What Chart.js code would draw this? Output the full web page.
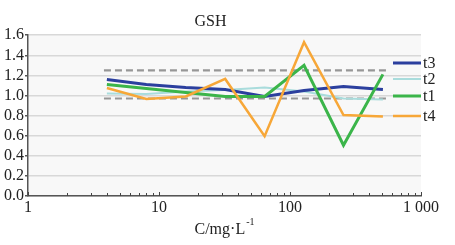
<!DOCTYPE html>
<html>
<head>
<meta charset="utf-8">
<script src="https://cdn.jsdelivr.net/npm/chart.js@4"></script>
<style>
  html, body { margin: 0; padding: 0; background: #fff; }
  #wrap { width: 455px; height: 245px; }
</style>
</head>
<body>
<div id="wrap"><canvas id="chart" width="455" height="245"></canvas></div>
<script>
// concentrations, mg/L
const conc = [4, 8, 16, 32, 64, 128, 256, 512];
const t3 = [1.16, 1.11, 1.08, 1.06, 0.99, 1.05, 1.09, 1.06];
const t2 = [1.02, 1.015, 1.04, 1.055, 1.08, 1.04, 0.97, 0.96];
const t1 = [1.11, 1.07, 1.03, 0.99, 0.99, 1.30, 0.505, 1.21];
const t4 = [1.075, 0.965, 0.99, 1.165, 0.595, 1.53, 0.805, 0.79];
// reference band (dashed)
const bandX = [3.8, 560];
const bandHigh = 1.25;
const bandLow = 0.97;
const yTicks = [0, 0.2, 0.4, 0.6, 0.8, 1.0, 1.2, 1.4, 1.6];
const xLabels = { 1: '1', 10: '10', 100: '100', 1000: '1 000' };

const FONT = '"Liberation Serif", "Times New Roman", serif';
const pts = (ys) => conc.map((c, i) => ({ x: c, y: ys[i] }));

const series = [
    { label: 't3', data: t3, color: '#2b3f9e', width: 3 },
    { label: 't2', data: t2, color: '#a9dcdc', width: 2 },
    { label: 't1', data: t1, color: '#3bb54a', width: 3 },
    { label: 't4', data: t4, color: '#f7a738', width: 2.5 }
];
const drawOrder = { t4: 0, t1: 1, t3: 2, t2: 3 };

const datasets = series.map(s => ({
    label: s.label,
    data: pts(s.data),
    borderColor: s.color,
    borderWidth: s.width,
    pointRadius: 0,
    fill: false,
    tension: 0,
    order: drawOrder[s.label]
}));
[bandHigh, bandLow].forEach(v => {
    datasets.push({
        label: 'band',
        data: bandX.map(x => ({ x: x, y: v })),
        borderColor: '#969696',
        borderWidth: 2.2,
        borderDash: [7, 4],
        pointRadius: 0,
        order: 5
    });
});

// plot background, inside ticks on x axis, axis title, legend
const decor = {
    id: 'decor',
    beforeDraw(chart) {
        const a = chart.chartArea, ctx = chart.ctx;
        ctx.save();
        ctx.fillStyle = '#f8f8f8';
        ctx.fillRect(a.left, a.top, a.right - a.left, a.bottom - a.top);
        ctx.restore();
    },
    afterDraw(chart) {
        const ctx = chart.ctx, xs = chart.scales.x, a = chart.chartArea;
        ctx.save();
        ctx.strokeStyle = '#444';
        ctx.lineWidth = 1;
        for (let d = 1; d <= 100; d *= 10) {
            for (let k = 1; k <= 10; k++) {
                const px = Math.round(xs.getPixelForValue(d * k)) + 0.5;
                const len = (k === 1 || k === 10) ? 4 : 3;
                ctx.beginPath();
                ctx.moveTo(px, a.bottom);
                ctx.lineTo(px, a.bottom - len);
                ctx.stroke();
            }
        }
        // x axis title with superscript
        ctx.fillStyle = '#222';
        ctx.textBaseline = 'alphabetic';
        ctx.font = '16px ' + FONT;
        const main = 'C/mg\u00b7L';
        const w = ctx.measureText(main).width;
        ctx.font = '10px ' + FONT;
        const sw = ctx.measureText('-1').width;
        const cx = (a.left + a.right) / 2;
        const x0 = cx - (w + sw + 1) / 2;
        ctx.font = '16px ' + FONT;
        ctx.fillText(main, x0, 234);
        ctx.font = '10px ' + FONT;
        ctx.fillText('-1', x0 + w + 1, 225);

        // legend
        const items = ['t3', 't2', 't1', 't4'];
        const ys = [63, 79, 96, 116];
        items.forEach((name, i) => {
            const ds = chart.data.datasets.find(d => d.label === name);
            ctx.strokeStyle = ds.borderColor;
            ctx.lineWidth = ds.borderWidth;
            ctx.beginPath();
            ctx.moveTo(393, ys[i]);
            ctx.lineTo(421, ys[i]);
            ctx.stroke();
            ctx.fillStyle = '#222';
            ctx.font = '16px ' + FONT;
            ctx.textBaseline = 'middle';
            ctx.fillText(name, 423, ys[i] + 1);
        });
        ctx.restore();
    }
};

new Chart(document.getElementById('chart'), {
    type: 'line',
    data: { datasets: datasets },
    options: {
        responsive: false,
        animation: false,
        layout: { padding: { left: 0, right: 34, top: 0, bottom: 0 } },
        plugins: {
            legend: { display: false },
            tooltip: { enabled: false },
            title: {
                display: true,
                text: 'GSH',
                color: '#222',
                font: { family: FONT, size: 16, weight: 'normal' },
                padding: { top: 12, bottom: 4 }
            }
        },
        scales: {
            x: {
                type: 'logarithmic',
                min: 1,
                max: 1000,
                afterFit(scale) { scale.height = 49; },
                afterBuildTicks(scale) {
                    scale.ticks = Object.keys(xLabels).map(v => ({ value: Number(v) }));
                },
                grid: { display: false, drawTicks: false, tickLength: 0 },
                border: { color: '#555', width: 1.5 },
                ticks: {
                    autoSkip: false,
                    maxRotation: 0,
                    padding: 2,
                    color: '#222',
                    font: { family: FONT, size: 16 },
                    callback: (v) => xLabels[v] || ''
                }
            },
            y: {
                min: 0,
                max: 1.6,
                afterFit(scale) { scale.width = 28; },
                afterBuildTicks(scale) {
                    scale.ticks = yTicks.map(v => ({ value: v }));
                },
                grid: { color: '#d8d8d8', lineWidth: 1.5, tickLength: 3, tickColor: '#555' },
                border: { color: '#555', width: 1.5 },
                ticks: {
                    autoSkip: false,
                    padding: 1,
                    color: '#222',
                    font: { family: FONT, size: 16 },
                    callback: (v) => Number(v).toFixed(1)
                }
            }
        }
    },
    plugins: [decor]
});
</script>
</body>
</html>
